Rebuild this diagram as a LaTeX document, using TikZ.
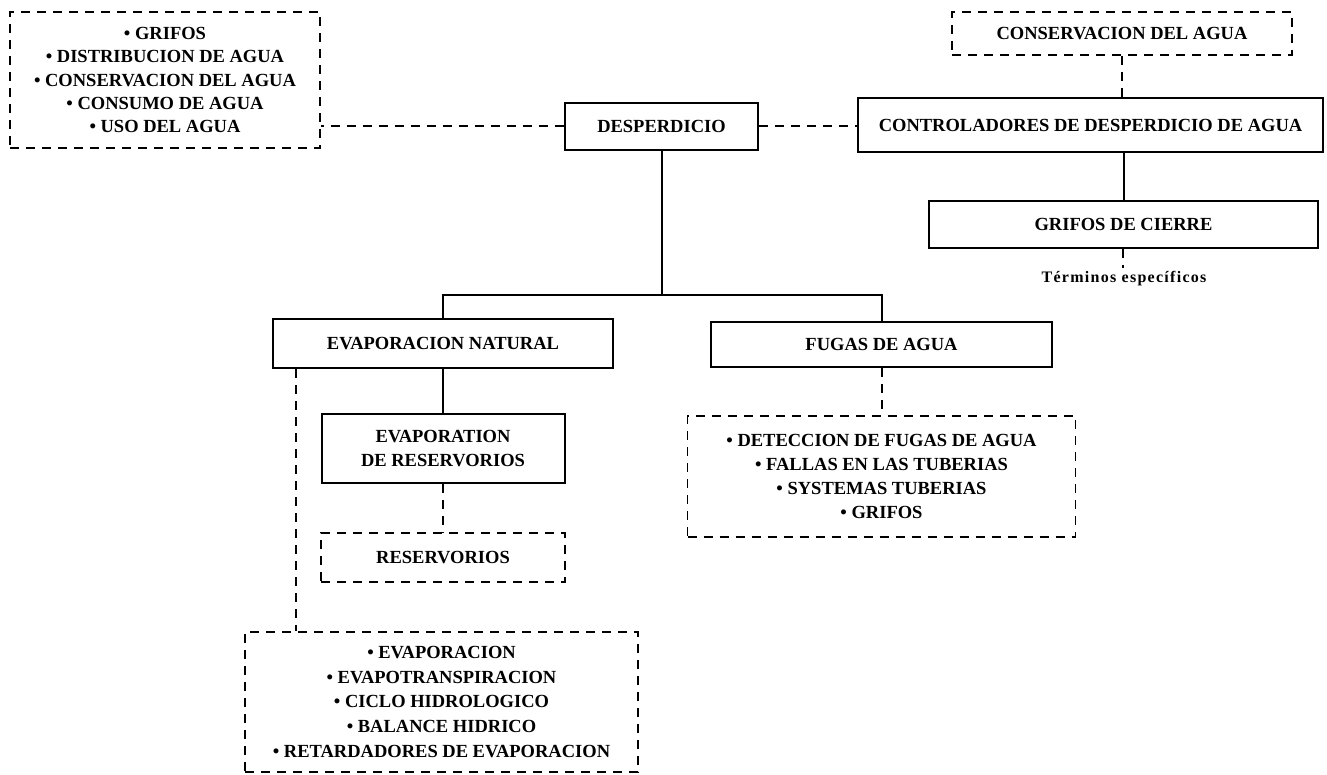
\documentclass[tikz,border=0pt]{standalone}
\usepackage{fontspec}
\setmainfont{Liberation Serif}
\begin{document}
\begin{tikzpicture}[x=1pt,y=-1pt,
  box/.style={draw,line width=2pt,rectangle,inner sep=0pt,align=center,
    font=\bfseries\fontsize{18.5}{24}\selectfont},
  dbox/.style={box,line width=1.9pt,dash pattern=on 9pt off 7pt},
  sl/.style={line width=2pt},
  dl/.style={line width=2pt,dash pattern=on 9pt off 7pt}]
\useasboundingbox (0,0) rectangle (1327,775);
\node[dbox,minimum width=310pt,minimum height=136pt,
  font=\bfseries\fontsize{18.5}{23.3}\selectfont] (tl) at (165,80)
  {\textbullet\ GRIFOS\\ \textbullet\ DISTRIBUCION DE AGUA\\ \textbullet\ CONSERVACION DEL AGUA\\ \textbullet\ CONSUMO DE AGUA\\ \textbullet\ USO DEL AGUA};
\node[box,minimum width=193pt,minimum height=47pt] (desp) at (661.5,126.5) {DESPERDICIO};
\node[dbox,minimum width=340pt,minimum height=43pt] (cons) at (1122,33.5) {CONSERVACION DEL AGUA};
\node[box,minimum width=465pt,minimum height=54pt] (ctrl) at (1090.5,125) {CONTROLADORES DE DESPERDICIO DE AGUA};
\node[box,minimum width=389pt,minimum height=47pt] (grif) at (1123.5,224.5) {GRIFOS DE CIERRE};
\node[font=\bfseries\fontsize{16}{18}\selectfont\addfontfeatures{LetterSpace=8}] (term) at (1124,279) {Términos específicos};
\node[box,minimum width=340pt,minimum height=49pt] (evnat) at (443,343.5) {EVAPORACION NATURAL};
\node[box,minimum width=243pt,minimum height=69pt] (evres) at (443,448.5) {EVAPORATION\\DE RESERVORIOS};
\node[dbox,minimum width=244pt,minimum height=49pt] (resv) at (443,557.5) {RESERVORIOS};
\node[dbox,minimum width=393pt,minimum height=140pt,
  font=\bfseries\fontsize{18.5}{24.75}\selectfont] (evl) at (441.5,702)
  {\textbullet\ EVAPORACION\\ \textbullet\ EVAPOTRANSPIRACION\\ \textbullet\ CICLO HIDROLOGICO\\ \textbullet\ BALANCE HIDRICO\\ \textbullet\ RETARDADORES DE EVAPORACION};
\node[box,minimum width=341pt,minimum height=45pt] (fug) at (881.5,344.5) {FUGAS DE AGUA};
\node[dbox,minimum width=388pt,minimum height=121pt] (fugl) at (881.5,476.5)
  {\textbullet\ DETECCION DE FUGAS DE AGUA\\ \textbullet\ FALLAS EN LAS TUBERIAS\\ \textbullet\ SYSTEMAS TUBERIAS\\ \textbullet\ GRIFOS};
\coordinate (bus) at (0,295);
\coordinate (lx) at (296,0);
\coordinate (tstub) at (1123,268);
\draw[dl] (desp.west) -- (desp.west -| tl.east);
\draw[dl] (desp.east) -- (desp.east -| ctrl.west);
\draw[dl] (cons.south) -- (cons.south |- ctrl.north);
\draw[sl] (grif.north) -- (grif.north |- ctrl.south);
\draw[dl] (grif.south -| tstub) -- (tstub);
\draw[sl] (desp.south) -- (desp.south |- bus);
\draw[sl] (evnat.north) -- (evnat.north |- bus) -- (fug.north |- bus) -- (fug.north);
\draw[sl] (evnat.south) -- (evres.north);
\draw[dl] (evres.south) -- (resv.north);
\draw[dl] (evnat.south -| lx) -- (evl.north -| lx);
\draw[dl] (fug.south) -- (fugl.north);
\end{tikzpicture}
\end{document}
